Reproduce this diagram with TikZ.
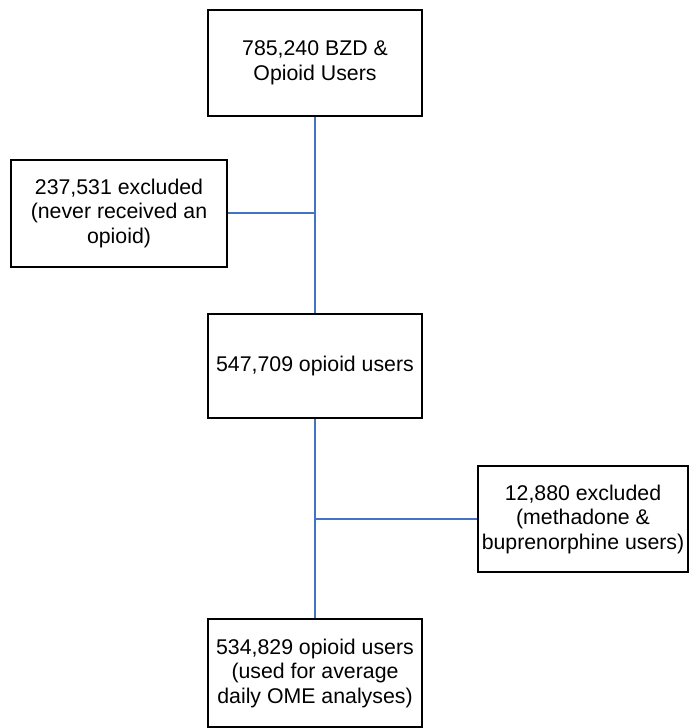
\documentclass[tikz,border=0pt]{standalone}
\usepackage{fontspec}
\setmainfont{Liberation Sans}
\definecolor{linkblue}{RGB}{68,114,196}
\tikzset{
  flowbox/.style={draw=black, line width=2pt, fill=white, align=center,
    inner sep=0pt, font=\fontsize{21.3}{24.5}\selectfont},
  link/.style={draw=linkblue, line width=2pt}
}
\begin{document}
\begin{tikzpicture}[x=1pt,y=-1pt]
\useasboundingbox (0,0) rectangle (691,728);
\node[flowbox, minimum width=214pt, minimum height=106pt] (top) at (315,63) {785,240 BZD \&\\Opioid Users};
\node[flowbox, minimum width=216pt, minimum height=107pt] (left) at (119,213) {237,531 excluded\\(never received an\\opioid)};
\node[flowbox, minimum width=214pt, minimum height=104pt] (mid) at (315,366) {547,709 opioid users};
\node[flowbox, minimum width=210pt, minimum height=106pt] (right) at (583,519) {12,880 excluded\\(methadone \&\\buprenorphine users)};
\node[flowbox, minimum width=214pt, minimum height=108pt] (bot) at (315,673) {534,829 opioid users\\(used for average\\daily OME analyses)};
\coordinate (j1) at (315,213);
\coordinate (j2) at (315,519);
\draw[link] (top.south) -- (mid.north);
\draw[link] (left.east) -- (j1);
\draw[link] (mid.south) -- (bot.north);
\draw[link] (right.west) -- (j2);
\end{tikzpicture}
\end{document}
